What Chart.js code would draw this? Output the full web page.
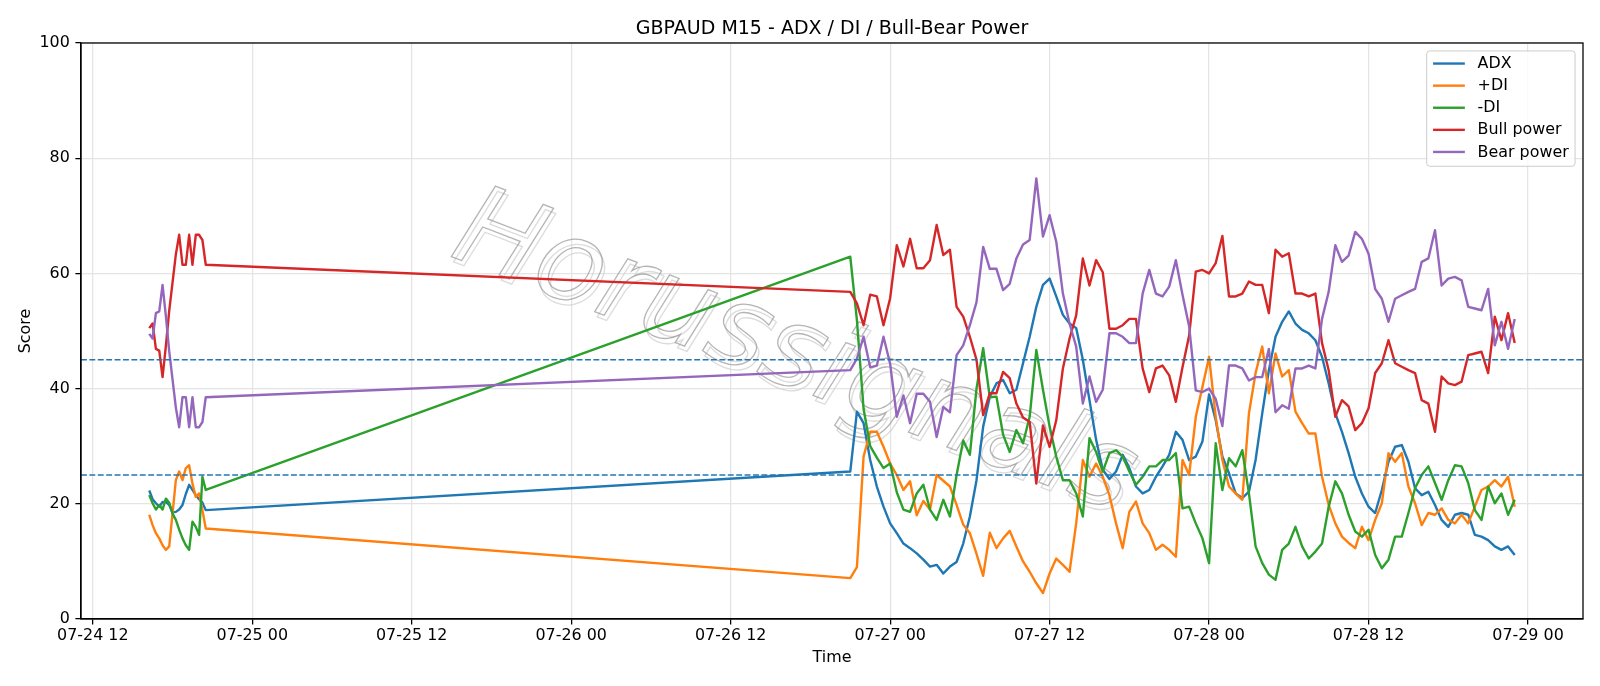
<!DOCTYPE html>
<html>
<head>
<meta charset="utf-8">
<title>GBPAUD M15 - ADX / DI / Bull-Bear Power</title>
<script src="https://cdn.jsdelivr.net/npm/chart.js@4.4.1/dist/chart.umd.min.js"></script>
<style>
html,body{margin:0;padding:0;background:#ffffff;overflow:hidden;}
#c{display:block;}
</style>
</head>
<body>
<canvas id="c" width="1600" height="686"></canvas>
<script>
const chartTitle = "GBPAUD M15 - ADX / DI / Bull-Bear Power";
const xTitle = "Time";
const yTitle = "Score";
const watermarkText = "Horussignals";
const xTickHours = [0, 12, 24, 36, 48, 60, 72, 84, 96, 108];
const xTickLabels = ["07-24 12", "07-25 00", "07-25 12", "07-26 00", "07-26 12", "07-27 00", "07-27 12", "07-28 00", "07-28 12", "07-29 00"];
const yTickValues = [0, 20, 40, 60, 80, 100];
const thresholdLevels = [45, 25];
const seriesNames = ["ADX", "+DI", "-DI", "Bull power", "Bear power"];

const times = [
  "07-24 16:15","07-24 16:30","07-24 16:45","07-24 17:00","07-24 17:15","07-24 17:30","07-24 17:45","07-24 18:00","07-24 18:15",
  "07-24 18:30","07-24 18:45","07-24 19:00","07-24 19:15","07-24 19:30","07-24 19:45","07-24 20:00","07-24 20:15","07-24 20:30",
  "07-26 21:00","07-26 21:30","07-26 22:00","07-26 22:30","07-26 23:00","07-26 23:30",
  "07-27 00:00","07-27 00:30","07-27 01:00","07-27 01:30","07-27 02:00","07-27 02:30","07-27 03:00","07-27 03:30",
  "07-27 04:00","07-27 04:30","07-27 05:00","07-27 05:30","07-27 06:00","07-27 06:30","07-27 07:00","07-27 07:30",
  "07-27 08:00","07-27 08:30","07-27 09:00","07-27 09:30","07-27 10:00","07-27 10:30","07-27 11:00","07-27 11:30",
  "07-27 12:00","07-27 12:30","07-27 13:00","07-27 13:30","07-27 14:00","07-27 14:30","07-27 15:00","07-27 15:30",
  "07-27 16:00","07-27 16:30","07-27 17:00","07-27 17:30","07-27 18:00","07-27 18:30","07-27 19:00","07-27 19:30",
  "07-27 20:00","07-27 20:30","07-27 21:00","07-27 21:30","07-27 22:00","07-27 22:30","07-27 23:00","07-27 23:30",
  "07-28 00:00","07-28 00:30","07-28 01:00","07-28 01:30","07-28 02:00","07-28 02:30","07-28 03:00","07-28 03:30",
  "07-28 04:00","07-28 04:30","07-28 05:00","07-28 05:30","07-28 06:00","07-28 06:30","07-28 07:00","07-28 07:30",
  "07-28 08:00","07-28 08:30","07-28 09:00","07-28 09:30","07-28 10:00","07-28 10:30","07-28 11:00","07-28 11:30",
  "07-28 12:00","07-28 12:30","07-28 13:00","07-28 13:30","07-28 14:00","07-28 14:30","07-28 15:00","07-28 15:30",
  "07-28 16:00","07-28 16:30","07-28 17:00","07-28 17:30","07-28 18:00","07-28 18:30","07-28 19:00","07-28 19:30",
  "07-28 20:00","07-28 20:30","07-28 21:00","07-28 21:30","07-28 22:00","07-28 22:30","07-28 23:00"
];

const adx = [
  22.3, 20.8, 20.1, 19.5, 20.3, 20.3, 19.8, 18.5, 18.6, 19.0, 19.8, 21.7, 23.3, 22.4, 21.5, 20.8, 20.2, 18.9,
  25.6, 36.0, 34.0, 27.6, 23.0, 19.5,
  16.6, 14.9, 13.1, 12.3, 11.4, 10.3, 9.1, 9.4, 7.9, 9.1, 9.9, 13.1, 17.8, 24.1, 33.4, 38.6,
  40.9, 41.5, 39.2, 39.8, 44.4, 49.0, 54.2, 58.0, 59.1, 56.0, 52.8, 51.3, 50.5, 45.0, 38.0, 31.1,
  25.9, 24.3, 25.6, 28.5, 26.2, 23.0, 21.8, 22.4, 24.7, 26.5, 28.5, 32.5, 31.1, 27.6, 28.2, 30.8,
  39.0, 34.5, 28.2, 25.3, 21.8, 21.0, 22.1, 27.6, 35.7, 43.2, 49.0, 51.6, 53.4, 51.3, 50.2, 49.6,
  48.4, 45.5, 40.9, 35.7, 32.5, 28.8, 24.7, 21.8, 19.5, 18.4, 22.4, 27.3, 29.9, 30.2, 27.3, 22.7,
  21.5, 22.1, 19.8, 17.2, 16.0, 18.1, 18.4, 18.1, 14.6, 14.3, 13.7, 12.6, 12.0, 12.6, 11.1
];

const plusDI = [
  18.1, 16.3, 14.9, 14.0, 12.8, 12.0, 12.6, 18.3, 24.1, 25.6, 24.1, 26.2, 26.7, 23.5, 21.2, 21.8, 18.9, 15.7,
  7.1, 9.0, 28.2, 32.5, 32.5, 29.9,
  27.0, 25.0, 22.4, 23.9, 18.0, 20.5, 19.0, 25.0, 24.0, 23.0, 19.8, 16.4, 14.9, 11.3, 7.5, 15.0,
  12.3, 14.0, 15.3, 12.6, 10.0, 8.2, 6.2, 4.5, 7.9, 10.5, 9.4, 8.2, 16.6, 27.6, 24.7, 27.0,
  24.7, 21.5, 16.6, 12.3, 18.6, 20.4, 16.6, 14.9, 12.0, 12.9, 12.0, 10.8, 27.6, 25.0, 35.1, 40.3,
  45.5, 35.1, 27.6, 23.0, 21.8, 20.7, 35.7, 42.7, 47.3, 39.2, 46.1, 42.1, 43.2, 36.0, 34.0, 32.2,
  32.2, 24.7, 19.8, 16.6, 14.3, 13.2, 12.3, 16.0, 13.7, 17.2, 20.1, 28.8, 27.3, 28.8, 23.0, 20.1,
  16.3, 18.4, 18.1, 19.2, 17.2, 16.6, 18.1, 16.6, 19.5, 22.4, 23.0, 24.1, 23.0, 24.7, 19.5
];

const minusDI = [
  21.5, 20.1, 19.0, 19.8, 19.0, 20.9, 20.2, 18.3, 17.2, 15.5, 14.0, 12.8, 12.0, 16.9, 16.0, 14.6, 24.7, 22.4,
  62.9, 51.9, 36.5, 30.0, 28.0, 26.2,
  27.0, 22.0, 19.0, 18.6, 21.8, 23.3, 19.0, 17.2, 20.7, 17.8, 25.0, 31.0, 28.5, 40.0, 47.0, 38.5,
  38.6, 32.0, 29.0, 32.8, 30.5, 35.1, 46.7, 39.8, 33.4, 28.2, 24.1, 24.1, 21.8, 17.8, 31.4, 29.0,
  25.6, 28.8, 29.3, 28.2, 25.6, 23.3, 24.7, 26.5, 26.5, 27.6, 27.6, 28.8, 19.2, 19.5, 16.6, 14.0,
  9.7, 30.5, 22.4, 27.9, 26.5, 29.3, 21.8, 12.6, 9.7, 7.7, 6.8, 12.0, 13.1, 16.0, 12.6, 10.5,
  11.7, 13.1, 19.5, 23.9, 21.8, 18.1, 15.2, 14.3, 15.5, 11.1, 8.8, 10.3, 14.3, 14.3, 18.4, 22.7,
  25.0, 26.5, 23.6, 20.7, 24.1, 26.7, 26.5, 23.6, 18.9, 17.2, 23.0, 20.1, 21.8, 18.1, 20.7
];

const bullPower = [
  50.5, 51.3, 46.9, 46.6, 42.0, 47.4, 53.5, 58.4, 63.3, 66.7, 61.5, 61.5, 66.7, 61.5, 66.7, 66.7, 65.8, 61.5,
  56.8, 54.8, 51.0, 56.3, 56.0, 51.0,
  55.7, 64.9, 61.2, 66.0, 60.9, 60.9, 62.3, 68.4, 63.2, 64.1, 54.2, 52.5, 49.0, 45.0, 35.4, 39.2,
  39.2, 42.9, 41.8, 37.4, 35.0, 34.2, 23.5, 33.6, 29.9, 34.5, 43.5, 48.7, 52.7, 62.6, 57.9, 62.3,
  60.2, 50.4, 50.4, 51.0, 52.1, 52.1, 43.5, 39.4, 43.5, 44.0, 42.3, 37.7, 43.7, 49.2, 60.3, 60.6,
  60.0, 61.8, 66.5, 56.0, 56.0, 56.5, 58.6, 58.0, 58.0, 53.1, 64.1, 62.9, 63.5, 56.5, 56.5, 56.0,
  56.5, 47.9, 43.2, 35.1, 38.0, 36.9, 32.8, 34.0, 36.6, 42.7, 44.4, 48.4, 44.4, 43.8, 43.2, 42.7,
  38.0, 37.4, 32.5, 42.1, 40.9, 40.6, 41.2, 45.8, 46.1, 46.4, 42.7, 52.5, 48.4, 53.1, 47.9
];

const bearPower = [
  49.5, 48.7, 53.1, 53.4, 58.0, 52.6, 46.5, 41.6, 36.7, 33.3, 38.5, 38.5, 33.3, 38.5, 33.3, 33.3, 34.2, 38.5,
  43.2, 45.2, 49.0, 43.7, 44.0, 49.0,
  44.3, 35.1, 38.8, 34.0, 39.1, 39.1, 37.7, 31.6, 36.8, 35.9, 45.8, 47.5, 51.0, 55.0, 64.6, 60.8,
  60.8, 57.1, 58.2, 62.6, 65.0, 65.8, 76.5, 66.4, 70.1, 65.5, 56.5, 51.3, 47.3, 37.4, 42.1, 37.7,
  39.8, 49.6, 49.6, 49.0, 47.9, 47.9, 56.5, 60.6, 56.5, 56.0, 57.7, 62.3, 56.3, 50.8, 39.7, 39.4,
  40.0, 38.2, 33.5, 44.0, 44.0, 43.5, 41.4, 42.0, 42.0, 46.9, 35.9, 37.1, 36.5, 43.5, 43.5, 44.0,
  43.5, 52.1, 56.8, 64.9, 62.0, 63.1, 67.2, 66.0, 63.4, 57.3, 55.6, 51.6, 55.6, 56.2, 56.8, 57.3,
  62.0, 62.6, 67.5, 57.9, 59.1, 59.4, 58.8, 54.2, 53.9, 53.6, 57.3, 47.5, 51.6, 46.9, 52.1
];

// ---------- build ----------
function toHours(s) {
  const parts = s.split(' ');
  const md = parts[0].split('-').map(Number);
  const hm = parts[1].split(':').map(Number);
  return (md[1] - 24) * 24 + hm[0] - 12 + hm[1] / 60;
}
const xs = times.map(toHours);
const tMin = Math.min.apply(null, xs), tMax = Math.max.apply(null, xs);
const span = tMax - tMin;
const xMin = tMin - 0.05 * span, xMax = tMax + 0.05 * span;
const toPts = arr => arr.map((v, i) => ({ x: xs[i], y: v }));

const FONT = '"DejaVu Sans", "Liberation Sans", sans-serif';
const FS = 15.9;
const LW = 2.4;
const palette = { "ADX": "#1f77b4", "+DI": "#ff7f0e", "-DI": "#2ca02c", "Bull power": "#d62728", "Bear power": "#9467bd" };
const seriesValues = [adx, plusDI, minusDI, bullPower, bearPower];

const datasets = seriesNames.map((name, i) => ({
  label: name,
  data: toPts(seriesValues[i]),
  borderColor: palette[name],
  backgroundColor: palette[name],
  borderWidth: LW,
  pointRadius: 0,
  pointHoverRadius: 0,
  fill: false,
  tension: 0,
  borderJoinStyle: 'round',
  borderCapStyle: 'butt',
  order: 10 - i
}));
thresholdLevels.forEach(level => {
  datasets.push({
    label: 'threshold ' + level,
    isThreshold: true,
    data: [{ x: xMin, y: level }, { x: xMax, y: level }],
    borderColor: '#1f77b4',
    borderWidth: 1.6,
    borderDash: [5.9, 2.5],
    pointRadius: 0,
    fill: false,
    tension: 0,
    order: 0
  });
});

function roundRectPath(ctx, x, y, w, h, r) {
  ctx.beginPath();
  ctx.moveTo(x + r, y);
  ctx.lineTo(x + w - r, y);
  ctx.arcTo(x + w, y, x + w, y + r, r);
  ctx.lineTo(x + w, y + h - r);
  ctx.arcTo(x + w, y + h, x + w - r, y + h, r);
  ctx.lineTo(x + r, y + h);
  ctx.arcTo(x, y + h, x, y + h - r, r);
  ctx.lineTo(x, y + r);
  ctx.arcTo(x, y, x + r, y, r);
  ctx.closePath();
}

const decorations = {
  id: 'decorations',
  beforeDatasetsDraw(chart) {
    const ctx = chart.ctx, ca = chart.chartArea;
    const cx = (ca.left + ca.right) / 2 - 38, cy = (ca.top + ca.bottom) / 2 + 26;
    ctx.save();
    ctx.beginPath();
    ctx.rect(ca.left, ca.top, ca.right - ca.left, ca.bottom - ca.top);
    ctx.clip();
    ctx.translate(cx, cy);
    ctx.rotate(21 * Math.PI / 180);
    ctx.font = 'italic 112px ' + FONT;
    ctx.textAlign = 'center';
    ctx.textBaseline = 'middle';
    ctx.lineWidth = 1.3;
    ctx.strokeStyle = 'rgba(205,205,205,0.7)';
    ctx.strokeText(watermarkText, 4, 4);
    ctx.strokeStyle = 'rgba(150,150,150,0.7)';
    ctx.strokeText(watermarkText, 0, 0);
    ctx.restore();
  },
  afterDraw(chart) {
    const ctx = chart.ctx, ca = chart.chartArea;
    ctx.save();
    // spines (frame)
    ctx.strokeStyle = '#000';
    ctx.lineWidth = 1.27;
    ctx.strokeRect(ca.left, ca.top, ca.right - ca.left, ca.bottom - ca.top);
    // title
    ctx.fillStyle = '#000';
    ctx.font = '19px ' + FONT;
    ctx.textAlign = 'center';
    ctx.textBaseline = 'alphabetic';
    ctx.fillText(chartTitle, (ca.left + ca.right) / 2, ca.top - 9.5);
    // x axis title
    ctx.font = FS + 'px ' + FONT;
    ctx.fillText(xTitle, (ca.left + ca.right) / 2, 662);
    // y axis title
    ctx.save();
    ctx.translate(30, (ca.top + ca.bottom) / 2);
    ctx.rotate(-Math.PI / 2);
    ctx.fillText(yTitle, 0, 0);
    ctx.restore();
    // legend
    ctx.font = FS + 'px ' + FONT;
    let maxW = 0;
    seriesNames.forEach(n => { maxW = Math.max(maxW, ctx.measureText(n).width); });
    const pad = 0.4 * FS, handle = 2 * FS, gap = 0.8 * FS;
    const w = pad + handle + gap + maxW + pad;
    const h = 115.3;
    const x0 = ca.right - 0.5 * FS - w, y0 = ca.top + 0.5 * FS;
    roundRectPath(ctx, x0, y0, w, h, 3);
    ctx.fillStyle = 'rgba(255,255,255,0.8)';
    ctx.fill();
    ctx.strokeStyle = '#cccccc';
    ctx.lineWidth = 1;
    ctx.stroke();
    seriesNames.forEach((n, i) => {
      const yy = y0 + 12.6 + i * 22.1;
      ctx.strokeStyle = palette[n];
      ctx.lineWidth = LW;
      ctx.beginPath();
      ctx.moveTo(x0 + pad, yy);
      ctx.lineTo(x0 + pad + handle, yy);
      ctx.stroke();
      ctx.fillStyle = '#000';
      ctx.textAlign = 'left';
      ctx.textBaseline = 'middle';
      ctx.fillText(n, x0 + pad + handle + gap, yy + 0.5);
    });
    ctx.restore();
  }
};

const tickFont = { family: FONT, size: FS };
new Chart(document.getElementById('c').getContext('2d'), {
  type: 'line',
  data: { datasets: datasets },
  options: {
    responsive: false,
    animation: false,
    devicePixelRatio: 1,
    events: [],
    layout: { padding: { top: 43, right: 17, bottom: 0, left: 0 } },
    plugins: { legend: { display: false }, tooltip: { enabled: false }, title: { display: false } },
    scales: {
      x: {
        type: 'linear',
        min: xMin,
        max: xMax,
        afterBuildTicks: s => { s.ticks = xTickHours.map(v => ({ value: v })); },
        afterFit: s => { s.height = 67; },
        ticks: {
          autoSkip: false, maxRotation: 0, minRotation: 0,
          color: '#000', font: tickFont, padding: 2,
          callback: v => xTickLabels[xTickHours.indexOf(v)]
        },
        grid: { color: '#e4e4e4', lineWidth: 1.27, tickColor: '#000', tickLength: 5.6, tickWidth: 1.27, drawTicks: true },
        border: { display: true, color: '#000', width: 1.27 }
      },
      y: {
        type: 'linear',
        min: 0,
        max: 100,
        afterBuildTicks: s => { s.ticks = yTickValues.map(v => ({ value: v })); },
        afterFit: s => { s.width = 81; },
        ticks: { color: '#000', font: tickFont, padding: 5.6 },
        grid: { color: '#e4e4e4', lineWidth: 1.27, tickColor: '#000', tickLength: 5.6, tickWidth: 1.27, drawTicks: true },
        border: { display: true, color: '#000', width: 1.27 }
      }
    }
  },
  plugins: [decorations]
});
</script>
</body>
</html>
